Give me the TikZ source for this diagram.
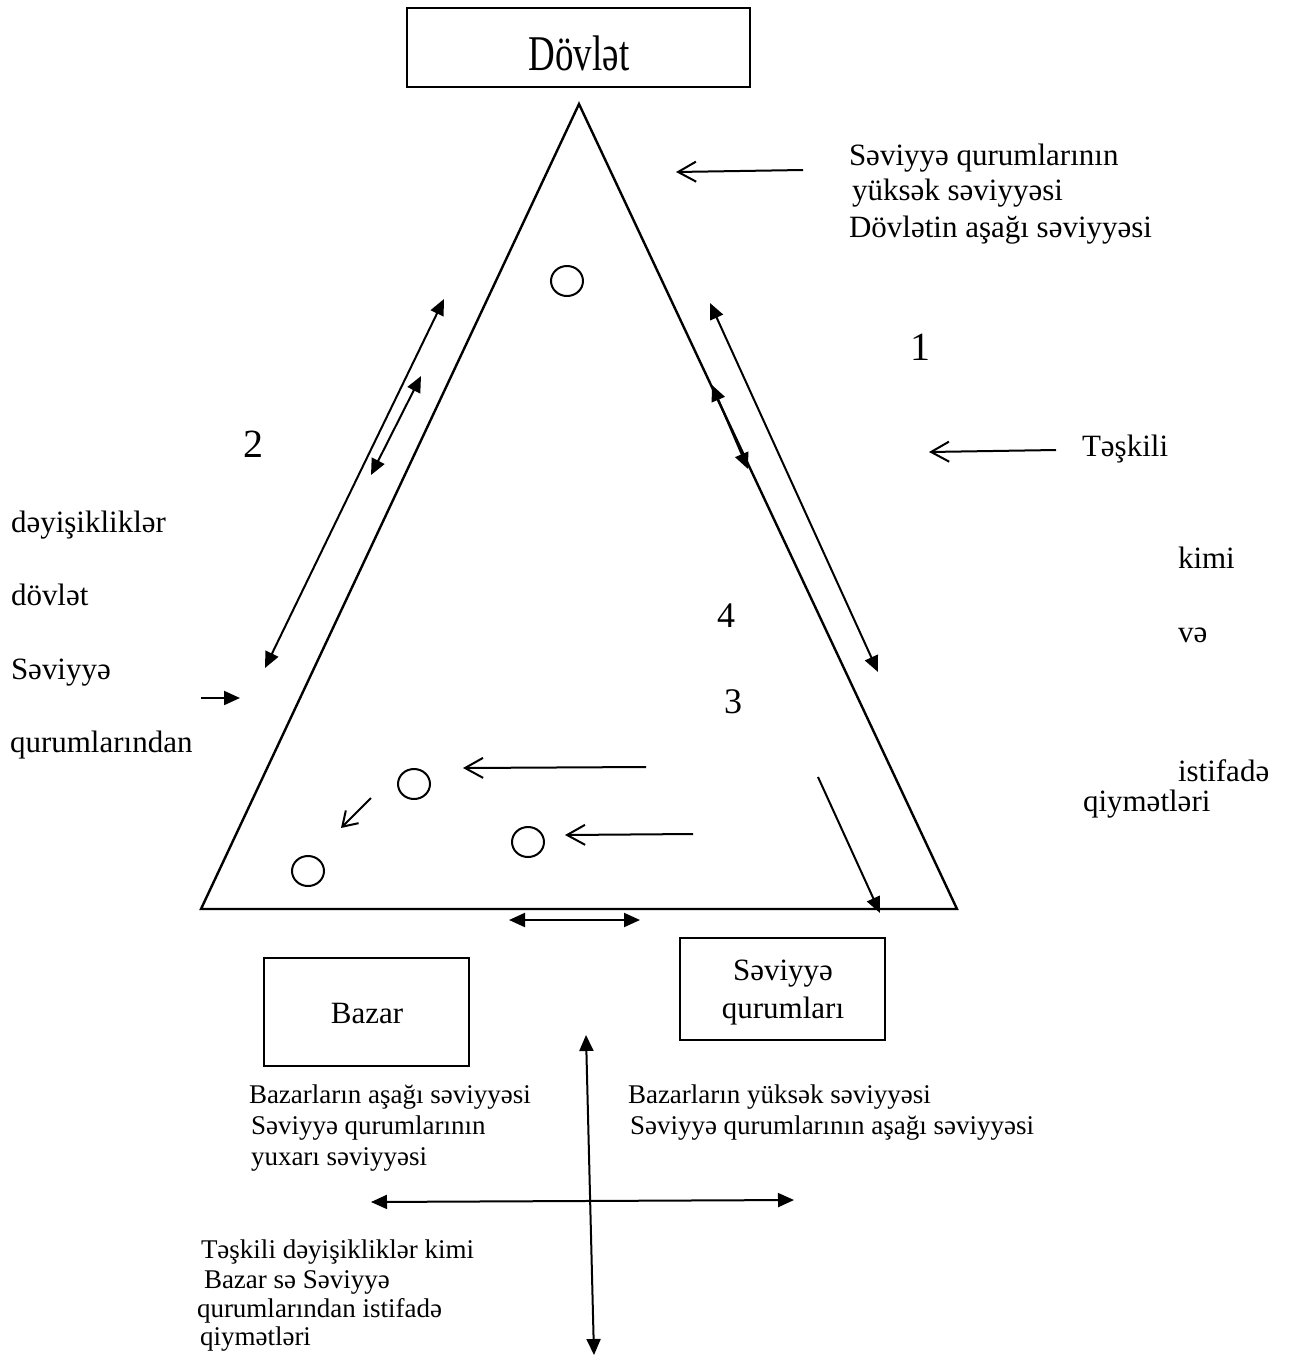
\documentclass[tikz,border=0pt]{standalone}
\usepackage{fontspec}
\setmainfont{Liberation Serif}
\usetikzlibrary{arrows.meta,shapes.geometric}
\begin{document}
\begin{tikzpicture}[x=1pt,y=-1pt,
  line width=2pt,
  txt/.style={inner sep=0pt, anchor=base west, font=\fontsize{31}{36}\selectfont},
  small/.style={inner sep=0pt, anchor=base west, font=\fontsize{27}{31}\selectfont},
  bignum/.style={inner sep=0pt, anchor=base, font=\fontsize{40}{40}\selectfont},
  num/.style={inner sep=0pt, anchor=base, font=\fontsize{36}{36}\selectfont},
  boxed/.style={draw, line width=2.6pt, inner sep=0pt},
  circ/.style={draw, ellipse, minimum width=32pt, minimum height=30pt, inner sep=0pt, line width=2pt},
  dbl/.style={{Triangle[length=16pt,width=14pt]}-{Triangle[length=16pt,width=14pt]}},
  fil/.style={-{Triangle[length=16pt,width=14pt]}},
  opn/.style={-{Straight Barb[length=18pt,width=20pt]}},
  opns/.style={-{Straight Barb[length=14pt,width=18pt]}}
]
\fill[white] (0,0) rectangle (1291,1358);
\useasboundingbox (0,0) rectangle (1291,1358);

% top box
\node[boxed, minimum width=343pt, minimum height=79pt] (state) at (578.5,47.5) {};
\node[inner sep=0pt, anchor=base, font=\fontsize{50}{50}\selectfont] (statelbl) at (579,70) {\scalebox{0.74}[1]{Dövlət}};

% triangle
\coordinate (apex) at (579,104);
\coordinate (bl) at (201,909);
\coordinate (br) at (957,909);
\draw[line width=2.4pt, line join=miter] (apex) -- (br) -- (bl) -- cycle;

% circles
\node[circ] (c0) at (567,281) {};
\node[circ] (c1) at (414,784) {};
\node[circ] (c2) at (528,842) {};
\node[circ] (c3) at (308,871) {};

% side arrows
\coordinate (l1a) at (444,299); \coordinate (l1b) at (265,668);
\coordinate (l2a) at (421,376); \coordinate (l2b) at (371,475);
\coordinate (r1a) at (710,303); \coordinate (r1b) at (878,672);
\coordinate (r2a) at (712,385); \coordinate (r2b) at (748,469);
\draw[dbl] (l1b) -- (l1a);
\draw[dbl] (l2b) -- (l2a);
\draw[dbl] (r1b) -- (r1a);
\draw[dbl] (r2b) -- (r2a);

% pointer arrows
\coordinate (ta) at (803,170); \coordinate (tb) at (676,172);
\draw[opn] (ta) -- (tb);
\coordinate (ka) at (1056,450); \coordinate (kb) at (929,452);
\draw[opn] (ka) -- (kb);
\coordinate (sa) at (201,698); \coordinate (sb) at (240,698);
\draw[fil] (sa) -- (sb);

% inner arrows
\coordinate (i1a) at (646,767); \coordinate (i1b) at (463,768);
\draw[opn] (i1a) -- (i1b);
\coordinate (i2a) at (693,834); \coordinate (i2b) at (565,835);
\draw[opn] (i2a) -- (i2b);
\coordinate (i3a) at (371,798); \coordinate (i3b) at (341,828);
\draw[opns] (i3a) -- (i3b);
\coordinate (i4a) at (818,777); \coordinate (i4b) at (880,913);
\draw[fil] (i4a) -- (i4b);
\coordinate (ba) at (509,920); \coordinate (bb) at (640,920);
\draw[dbl] (ba) -- (bb);

% numbers
\node[bignum] (n1) at (920,360) {1};
\node[bignum] (n2) at (253,457) {2};
\node[num] (n4) at (726,627) {4};
\node[num] (n3) at (733,713) {3};

% upper right text
\node[txt] (ur1) at (848,165) {Səviyyə qurumlarının};
\node[txt] (ur2) at (851,200) {yüksək səviyyəsi};
\node[txt] (ur3) at (848,237) {Dövlətin aşağı səviyyəsi};

% left column
\node[txt] (lc1) at (10,532) {dəyişikliklər};
\node[txt] (lc2) at (10,605) {dövlət};
\node[txt] (lc3) at (10,679) {Səviyyə};
\node[txt] (lc4) at (9,752) {qurumlarından};

% right column
\node[txt] (rc1) at (1081,456) {Təşkili};
\node[txt] (rc2) at (1177,568) {kimi};
\node[txt] (rc3) at (1177,642) {və};
\node[txt] (rc4) at (1177,781) {istifadə};
\node[txt] (rc5) at (1082,811) {qiymətləri};

% bottom boxes
\node[boxed, minimum width=205pt, minimum height=108pt] (bazar) at (366.5,1012) {};
\node[inner sep=0pt, anchor=base, font=\fontsize{31}{36}\selectfont] (bazarlbl) at (367,1023) {Bazar};
\node[boxed, minimum width=205pt, minimum height=102pt] (inst) at (782.5,989) {};
\node[inner sep=0pt, anchor=base, font=\fontsize{31}{36}\selectfont] (instl1) at (783,980) {Səviyyə};
\node[inner sep=0pt, anchor=base, font=\fontsize{31}{36}\selectfont] (instl2) at (783,1018) {qurumları};

% cross arrows
\coordinate (va) at (586,1035); \coordinate (vb) at (594,1355);
\draw[dbl] (va) -- (vb);
\coordinate (ha) at (371,1202); \coordinate (hb) at (794,1200);
\draw[dbl] (ha) -- (hb);

% lower texts
\node[small] (q1a) at (248,1103) {Bazarların aşağı səviyyəsi};
\node[small] (q1b) at (250,1134) {Səviyyə qurumlarının};
\node[small] (q1c) at (250,1165) {yuxarı səviyyəsi};
\node[small] (q2a) at (627,1103) {Bazarların yüksək səviyyəsi};
\node[small] (q2b) at (629,1134) {Səviyyə qurumlarının aşağı səviyyəsi};
\node[small] (q3a) at (200,1258) {Təşkili dəyişikliklər kimi};
\node[small] (q3b) at (203,1288) {Bazar sə Səviyyə};
\node[small] (q3c) at (196,1317) {qurumlarından istifadə};
\node[small] (q3d) at (199,1345) {qiymətləri};
\end{tikzpicture}
\end{document}
